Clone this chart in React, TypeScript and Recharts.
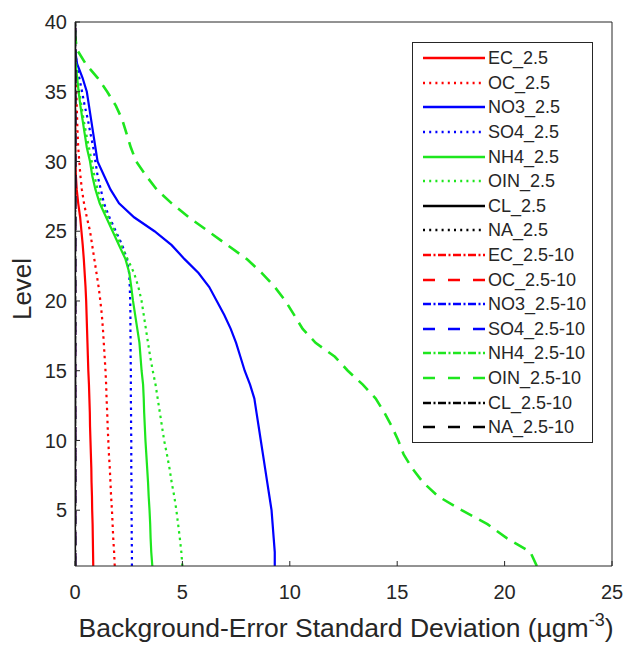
import React from 'react';
import { LineChart, Line, XAxis, YAxis, Legend } from 'recharts';

const LEVELS = [1, 2, 3, 4, 5, 6, 7, 8, 9, 10, 11, 12, 13, 14, 15, 16, 17, 18, 19, 20, 21, 22, 23, 24, 25, 26, 27, 28, 29, 30, 31, 32, 33, 34, 35, 36, 37, 38, 39, 40];
const X_TICKS = [0, 5, 10, 15, 20, 25];
const Y_TICKS = [5, 10, 15, 20, 25, 30, 35, 40];

const EC_25 = [0.85, 0.84, 0.83, 0.82, 0.8, 0.79, 0.77, 0.76, 0.74, 0.72, 0.7, 0.69, 0.67, 0.65, 0.62, 0.6, 0.58, 0.56, 0.54, 0.52, 0.49, 0.45, 0.41, 0.36, 0.3, 0.24, 0.15, 0.08, 0.04, 0.02, 0.01, 0.01, 0.01, 0, 0, 0, 0, 0, 0, 0];
const OC_25 = [1.85, 1.82, 1.78, 1.75, 1.72, 1.68, 1.65, 1.62, 1.58, 1.55, 1.52, 1.5, 1.47, 1.45, 1.42, 1.38, 1.34, 1.3, 1.25, 1.18, 1.1, 1.0, 0.9, 0.8, 0.7, 0.55, 0.42, 0.32, 0.25, 0.2, 0.15, 0.12, 0.1, 0.08, 0.06, 0.04, 0.02, 0, 0, 0];
const NO3_25 = [9.3, 9.3, 9.25, 9.2, 9.15, 9.05, 8.95, 8.85, 8.75, 8.65, 8.55, 8.45, 8.35, 8.15, 7.9, 7.7, 7.5, 7.25, 6.95, 6.6, 6.25, 5.75, 5.1, 4.5, 3.7, 2.75, 2.05, 1.65, 1.35, 1.05, 0.95, 0.85, 0.75, 0.65, 0.55, 0.35, 0.1, 0, 0, 0];
const SO4_25 = [2.65, 2.65, 2.64, 2.64, 2.63, 2.63, 2.63, 2.62, 2.62, 2.62, 2.61, 2.61, 2.6, 2.6, 2.6, 2.59, 2.59, 2.58, 2.58, 2.57, 2.55, 2.52, 2.42, 2.2, 1.9, 1.6, 1.35, 1.2, 1.05, 0.95, 0.85, 0.72, 0.6, 0.45, 0.33, 0.2, 0.08, 0, 0, 0];
const NH4_25 = [3.6, 3.55, 3.52, 3.5, 3.47, 3.43, 3.4, 3.36, 3.32, 3.28, 3.25, 3.22, 3.2, 3.17, 3.1, 3.05, 3.0, 2.9, 2.8, 2.7, 2.62, 2.53, 2.35, 2.05, 1.75, 1.45, 1.15, 0.95, 0.8, 0.7, 0.55, 0.45, 0.35, 0.25, 0.17, 0.1, 0.03, 0, 0, 0];
const OIN_25 = [5.0, 4.95, 4.88, 4.8, 4.72, 4.62, 4.5, 4.4, 4.28, 4.15, 4.05, 3.95, 3.85, 3.75, 3.62, 3.5, 3.4, 3.3, 3.2, 3.1, 2.95, 2.75, 2.45, 2.15, 1.85, 1.55, 1.25, 1.05, 0.9, 0.78, 0.65, 0.52, 0.4, 0.3, 0.2, 0.12, 0.05, 0, 0, 0];
const OIN_2510 = [21.5, 21.2, 20.1, 19.2, 18.0, 16.9, 16.2, 15.7, 15.3, 15.05, 14.75, 14.4, 14.0, 13.4, 12.7, 12.1, 11.2, 10.6, 10.2, 9.8, 9.3, 8.7, 8.0, 7.1, 6.2, 5.3, 4.5, 3.8, 3.3, 2.85, 2.6, 2.4, 2.2, 1.9, 1.5, 1.05, 0.5, 0.1, 0, 0];
const ZERO_PROFILE = [0, 0, 0, 0, 0, 0, 0, 0, 0, 0, 0, 0, 0, 0, 0, 0, 0, 0, 0, 0, 0, 0, 0, 0, 0, 0, 0, 0, 0, 0, 0, 0, 0, 0, 0, 0, 0, 0, 0, 0];

const RED = '#ff0000';
const BLUE = '#0000ff';
const GREEN = '#1ee61e';
const BLACK = '#000000';
const AXIS = '#262626';
const FONT = '"Liberation Sans", Arial, sans-serif';

type Style = 'solid' | 'dotted' | 'dashed' | 'dashdot';

const PLOT_DASH: Record<Style, string | undefined> = {
  solid: undefined,
  dotted: '2.5 4',
  dashed: '13 8',
  dashdot: '10 4 2 4',
};
const LEGEND_DASH: Record<Style, string | undefined> = {
  solid: undefined,
  dotted: '2 4.2',
  dashed: '12 13',
  dashdot: '8 2.5 2 2.5',
};

const SERIES: { key: string; name: string; color: string; style: Style; values: number[] }[] = [
  { key: 'ec25', name: 'EC_2.5', color: RED, style: 'solid', values: EC_25 },
  { key: 'oc25', name: 'OC_2.5', color: RED, style: 'dotted', values: OC_25 },
  { key: 'no325', name: 'NO3_2.5', color: BLUE, style: 'solid', values: NO3_25 },
  { key: 'so425', name: 'SO4_2.5', color: BLUE, style: 'dotted', values: SO4_25 },
  { key: 'nh425', name: 'NH4_2.5', color: GREEN, style: 'solid', values: NH4_25 },
  { key: 'oin25', name: 'OIN_2.5', color: GREEN, style: 'dotted', values: OIN_25 },
  { key: 'cl25', name: 'CL_2.5', color: BLACK, style: 'solid', values: ZERO_PROFILE },
  { key: 'na25', name: 'NA_2.5', color: BLACK, style: 'dotted', values: ZERO_PROFILE },
  { key: 'ec2510', name: 'EC_2.5-10', color: RED, style: 'dashdot', values: ZERO_PROFILE },
  { key: 'oc2510', name: 'OC_2.5-10', color: RED, style: 'dashed', values: ZERO_PROFILE },
  { key: 'no32510', name: 'NO3_2.5-10', color: BLUE, style: 'dashdot', values: ZERO_PROFILE },
  { key: 'so42510', name: 'SO4_2.5-10', color: BLUE, style: 'dashed', values: ZERO_PROFILE },
  { key: 'nh42510', name: 'NH4_2.5-10', color: GREEN, style: 'dashdot', values: ZERO_PROFILE },
  { key: 'oin2510', name: 'OIN_2.5-10', color: GREEN, style: 'dashed', values: OIN_2510 },
  { key: 'cl2510', name: 'CL_2.5-10', color: BLACK, style: 'dashdot', values: ZERO_PROFILE },
  { key: 'na2510', name: 'NA_2.5-10', color: BLACK, style: 'dashed', values: ZERO_PROFILE },
];

const DATA = LEVELS.map((level, i) => {
  const row: Record<string, number> = { level };
  SERIES.forEach((s) => {
    row[s.key] = s.values[i];
  });
  return row;
});

const PLOT_ORDER = [
  'ec25', 'oc25', 'no325', 'so425', 'nh425', 'oin25',
  'ec2510', 'oc2510', 'no32510', 'so42510', 'nh42510', 'oin2510',
  'na25', 'na2510', 'cl2510', 'cl25',
];

const LegendBox = () => (
  <div
    style={{
      width: 181,
      height: 401,
      boxSizing: 'border-box',
      border: `1px solid ${AXIS}`,
      background: '#fff',
      paddingTop: 3,
      fontFamily: FONT,
      fontSize: 18,
      color: AXIS,
    }}
  >
    {SERIES.map((s) => (
      <div key={s.key} style={{ height: 24.6, display: 'flex', alignItems: 'center' }}>
        <svg width={73} height={10} style={{ display: 'block', flex: 'none' }}>
          <line
            x1={10}
            x2={72}
            y1={5}
            y2={5}
            stroke={s.color}
            strokeWidth={2.5}
            strokeDasharray={LEGEND_DASH[s.style]}
          />
        </svg>
        <span style={{ marginLeft: 2, whiteSpace: 'nowrap', lineHeight: '20px' }}>{s.name}</span>
      </div>
    ))}
  </div>
);

const XTitle = (props: any) => {
  const vb = props.viewBox || {};
  const cx = 346;
  const y = (vb.y ?? 566) + 71;
  return (
    <text x={cx} y={y} textAnchor="middle" fontFamily={FONT} fontSize={26.5} fill={AXIS}>
      Background-Error Standard Deviation (µgm
      <tspan dy={-11} fontSize={18}>-3</tspan>
      <tspan dy={11}>)</tspan>
    </text>
  );
};

const YTitle = () => {
  const x = 22;
  const y = 289;
  return (
    <text
      x={x}
      y={y}
      textAnchor="middle"
      dominantBaseline="central"
      transform={`rotate(-90, ${x}, ${y})`}
      fontFamily={FONT}
      fontSize={26}
      fill={AXIS}
    >
      Level
    </text>
  );
};

const tickStyle = { fontSize: 20, fill: AXIS, fontFamily: FONT };

export default function App() {
  return (
    <div style={{ position: 'absolute', left: 0, top: 0, width: 627, height: 646, background: '#fff' }}>
      <LineChart
        width={627}
        height={646}
        data={DATA}
        layout="vertical"
        margin={{ top: 21, right: 14, bottom: 0, left: 0 }}
      >
        <XAxis
          type="number"
          domain={[0, 25]}
          ticks={X_TICKS}
          allowDataOverflow
          height={80}
          stroke={AXIS}
          tickSize={-5}
          tickMargin={24}
          tick={tickStyle}
          label={{ content: (p: any) => <XTitle {...p} /> }}
        />
        <XAxis
          xAxisId="top"
          orientation="top"
          type="number"
          domain={[0, 25]}
          ticks={X_TICKS}
          allowDataOverflow
          height={1}
          stroke={AXIS}
          tickSize={-5}
          tick={false}
        />
        <YAxis
          type="number"
          dataKey="level"
          domain={[1, 40]}
          ticks={Y_TICKS}
          allowDataOverflow
          reversed
          width={75}
          stroke={AXIS}
          tickSize={-5}
          tickMargin={13}
          tick={tickStyle}
          label={{ content: () => <YTitle /> }}
        />
        <YAxis
          yAxisId="right"
          orientation="right"
          type="number"
          dataKey="level"
          domain={[1, 40]}
          ticks={Y_TICKS}
          allowDataOverflow
          reversed
          width={1}
          stroke={AXIS}
          tickSize={-5}
          tick={false}
        />
        <Line
          xAxisId="top"
          yAxisId="right"
          dataKey="oin2510"
          stroke="none"
          strokeWidth={0}
          dot={false}
          activeDot={false}
          legendType="none"
          isAnimationActive={false}
        />
        {PLOT_ORDER.map((k) => {
          const s = SERIES.find((x) => x.key === k)!;
          return (
            <Line
              key={s.key}
              dataKey={s.key}
              name={s.name}
              stroke={s.color}
              strokeWidth={s.style === 'dashed' ? 2.6 : 2.2}
              strokeDasharray={PLOT_DASH[s.style]}
              dot={false}
              activeDot={false}
              isAnimationActive={false}
            />
          );
        })}
        <Legend
          layout="vertical"
          align="center"
          verticalAlign="middle"
          wrapperStyle={{ left: 412, top: 42, width: 181, height: 401 }}
          content={() => <LegendBox />}
        />
      </LineChart>
    </div>
  );
}
